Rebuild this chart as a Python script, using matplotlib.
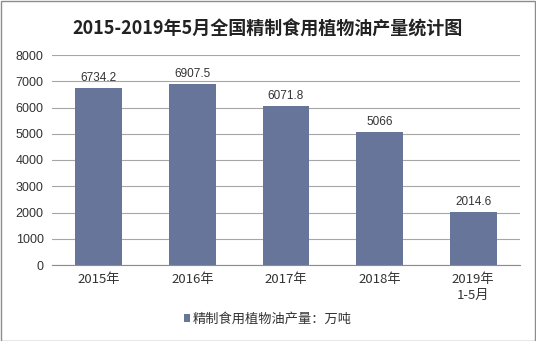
import matplotlib
matplotlib.use("Agg")
import matplotlib.pyplot as plt
from matplotlib.patches import Rectangle

plt.rcParams['font.family'] = ['Noto Sans CJK SC', 'DejaVu Sans']

categories = ["2015年", "2016年", "2017年", "2018年", "2019年\n1-5月"]
values = [6734.2, 6907.5, 6071.8, 5066, 2014.6]
value_labels = ["6734.2", "6907.5", "6071.8", "5066", "2014.6"]
yticks = [0, 1000, 2000, 3000, 4000, 5000, 6000, 7000, 8000]
title = "2015-2019年5月全国精制食用植物油产量统计图"
series_name = "精制食用植物油产量：万吨"

bar_color = "#68759b"
grid_color = "#a6a6a6"

fig = plt.figure(figsize=(5.36, 3.41), dpi=100)
ax = fig.add_axes([52/536, 1-265/341, (520-52)/536, (265-55)/341])

x = list(range(len(categories)))
ax.bar(x, values, width=0.5, color=bar_color, zorder=3, label=series_name)
for xi, v, lab in zip(x, values, value_labels):
    ax.text(xi, v + 150, lab, ha="center", va="bottom", fontsize=8.5, color="#333333",
            family=["Liberation Sans", "DejaVu Sans"])

ax.set_ylim(0, 8000)
ax.set_xlim(-0.5, len(categories) - 0.5)
ax.set_yticks(yticks)
ax.set_yticklabels([str(t) for t in yticks], fontsize=9, color="#333333",
                   family=["Liberation Sans", "DejaVu Sans"])
ax.set_xticks(x)
ax.set_xticklabels(categories, fontsize=9.5, color="#333333", linespacing=1.3)
ax.tick_params(axis="both", length=0, pad=6)
ax.yaxis.grid(True, color=grid_color, linewidth=0.8, zorder=0)
for s in ["top", "right", "left"]:
    ax.spines[s].set_visible(False)
ax.spines["bottom"].set_color("#8c8c8c")
ax.spines["bottom"].set_zorder(4)

fig.text(0.5, 1-28/341, title, ha="center", va="center", fontsize=13,
         fontweight="bold", color="#222222")

leg = fig.legend(loc="center", bbox_to_anchor=(0.5, 1-319/341), frameon=False,
                 fontsize=9.5, handlelength=0.5, handleheight=0.5, handletextpad=0.2)
for t in leg.get_texts():
    t.set_color("#333333")

fig.patches.append(Rectangle((0.5/536, 0.5/341), 1-1.5/536, 1-1.5/341,
                             transform=fig.transFigure, fill=False,
                             edgecolor="#8c8c8c", linewidth=1.0))

fig.savefig("out.png", dpi=100)
